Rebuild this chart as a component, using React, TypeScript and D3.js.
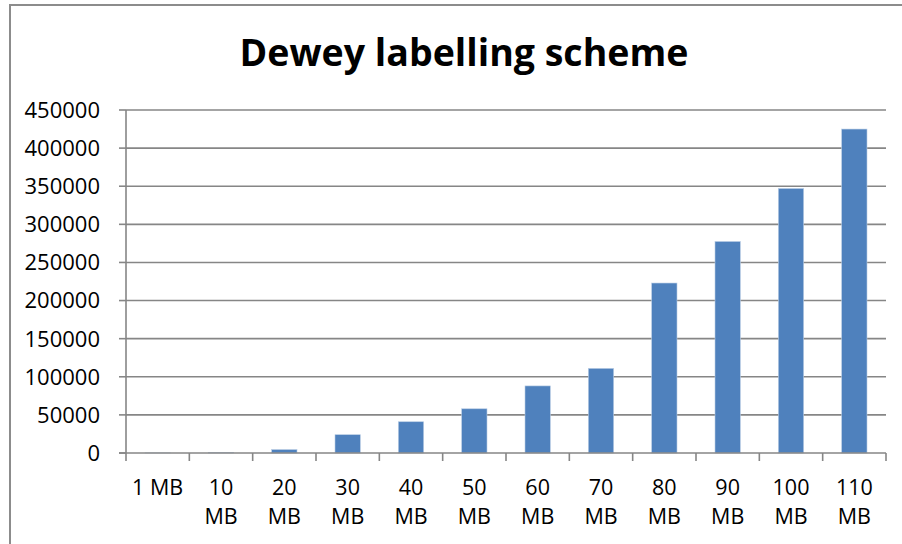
import React from "react";
import * as d3 from "d3";

// Labelling cost per document size
const categories: string[] = ["1 MB", "10 MB", "20 MB", "30 MB", "40 MB", "50 MB", "60 MB", "70 MB", "80 MB", "90 MB", "100 MB", "110 MB"];
const values: number[] = [150, 700, 4500, 24000, 41000, 58000, 88000, 111000, 223000, 277500, 347000, 425000];
const yTicks: number[] = [0, 50000, 100000, 150000, 200000, 250000, 300000, 350000, 400000, 450000];
const title = "Dewey labelling scheme";

const W = 902;
const H = 544;
const FONT = "'Open Sans', 'Noto Sans', sans-serif";

export default function App() {
  const left = 126;
  const right = 886;
  const top = 110;
  const bottom = 453;

  const x = d3.scaleBand<string>().domain(categories).range([left, right]).paddingInner(0.6).paddingOuter(0.3);
  const y = d3.scaleLinear().domain([0, 450000]).range([bottom, top]);
  const step = (right - left) / categories.length;
  const gridColor = "#868686";

  const splitLabel = (s: string) => (s.length > 4 ? s.split(" ") : [s]);

  return (
    <div style={{ position: "fixed", left: 0, top: 0 }}>
      <svg width={W} height={H} style={{ display: "block", background: "#fff" }}>
        <rect x={10} y={5} width={W + 20} height={H + 20} fill="#fff" stroke="#8c8c8c" strokeWidth={2} />
        <text x={464} y={66} textAnchor="middle" fontFamily={FONT} fontWeight={700} fontSize={37.5} fill="#000">
          {title}
        </text>

        {/* horizontal gridlines and value labels */}
        {yTicks.map((t) => (
          <g key={t}>
            {t > 0 && (
              <line x1={left} x2={right} y1={y(t)} y2={y(t)} stroke={gridColor} strokeWidth={1.6} />
            )}
            <line x1={left - 7} x2={left} y1={y(t)} y2={y(t)} stroke={gridColor} strokeWidth={1.6} />
            <text x={100} y={y(t)} dy="0.36em" textAnchor="end" fontFamily={FONT} fontSize={22} fill="#000">
              {t}
            </text>
          </g>
        ))}

        {/* bars */}
        {categories.map((c, i) => (
          <rect
            key={c}
            x={x(c)!}
            y={y(values[i])}
            width={x.bandwidth()}
            height={bottom - y(values[i])}
            fill="#4f81bd"
            stroke="#b9cde5"
            strokeWidth={0.6}
          />
        ))}

        {/* axes */}
        <line x1={left} x2={left} y1={top} y2={bottom} stroke={gridColor} strokeWidth={1.6} />
        <line x1={left - 7} x2={right} y1={bottom} y2={bottom} stroke={gridColor} strokeWidth={1.6} />
        {d3.range(categories.length + 1).map((i) => (
          <line key={i} x1={left + i * step} x2={left + i * step} y1={bottom} y2={bottom + 8} stroke={gridColor} strokeWidth={1.6} />
        ))}

        {/* category labels */}
        {categories.map((c) => {
          const cx = x(c)! + x.bandwidth() / 2;
          return (
            <text key={c} textAnchor="middle" fontFamily={FONT} fontSize={21.5} fill="#000">
              {splitLabel(c).map((line, j) => (
                <tspan key={j} x={cx} y={495 + j * 29}>
                  {line}
                </tspan>
              ))}
            </text>
          );
        })}
      </svg>
    </div>
  );
}
